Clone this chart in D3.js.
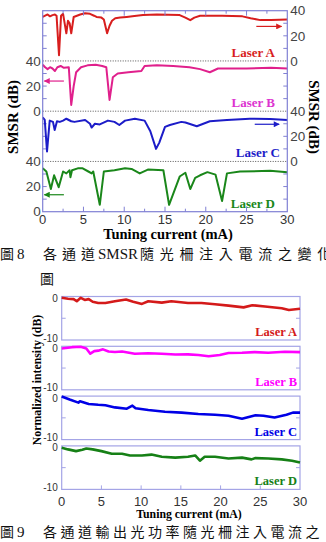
<!DOCTYPE html>
<html>
<head>
<meta charset="utf-8">
<script src="https://cdnjs.cloudflare.com/ajax/libs/d3/7.8.5/d3.min.js"></script>
<style>
  body { margin: 0; background: #fff; }
  svg { display: block; }
  .serif { font-family: "Liberation Serif", "Times New Roman", serif; font-weight: bold; }
  .sans { font-family: "Liberation Sans", Arial, sans-serif; }
  .cjk { font-family: "Noto Sans CJK TC", sans-serif; }
</style>
</head>
<body>
<div class="chart"></div>
<script>
// ---- data ----
var lasers = ["Laser A", "Laser B", "Laser C", "Laser D"];
var xTicks = [0, 5, 10, 15, 20, 25, 30];
var smsrTickLabels = [0, 20, 40];
var powerTickLabels = [0, -10];

// Fig 8: SMSR (dB) vs tuning current (mA)
var smsrA = [[0,35],[0.3,36],[0.6,37],[0.9,35.5],[1.2,36.5],[1.5,37],[1.7,36],[2.0,4.5],[2.25,36],[2.5,37.5],[2.9,22],[3.1,32],[3.3,30],[3.5,22],[3.8,35],[4.2,36],[4.6,37],[5.2,38],[5.8,37.5],[6.3,36],[6.6,35],[7.2,34.5],[7.5,33],[7.9,22],[8.2,28],[8.5,32],[8.9,34],[9.5,34.5],[10.3,35],[11,35.5],[12.3,36.5],[14,37],[16.8,36.5],[17.5,34.5],[18.1,32.5],[18.6,34.5],[19.3,36],[22,36],[24.5,35.5],[25.5,34],[26.7,32.5],[28,32.5],[30,33]];
var smsrB = [[0,37],[0.3,35],[0.6,33.5],[0.9,35],[1.2,34],[1.5,32],[1.8,35],[2.2,36],[2.6,34.5],[3.2,35],[3.5,5],[3.8,20],[4.1,31],[4.7,35],[5.5,36.5],[6.5,37],[7.3,36],[7.8,35],[8.2,9],[8.6,27],[9.2,30],[10.5,31],[12.1,32],[12.5,36],[14,36.5],[16,36],[18,35],[19.3,33.5],[20.5,31],[21.5,34],[25,34],[28,34.5],[30,34]];
var smsrC = [[0,35],[0.25,33],[0.53,8],[0.86,32.5],[1.26,31.5],[1.47,25],[1.75,32],[2.1,31.5],[2.5,32.5],[2.9,34],[3.5,32],[3.9,31.5],[5.2,33],[5.8,30],[6.0,27],[6.4,30],[7,29.5],[8,32.5],[8.8,31.5],[9.4,29],[10.1,32.5],[11.3,34],[12.5,32.5],[13.2,24],[13.9,10],[14.3,15],[15,27.5],[15.6,29],[17,31.5],[17.5,31],[18.9,28],[20.5,32],[22.6,33],[25.4,34],[27.9,33.8],[30,33]];
var smsrD = [[0,34.5],[0.45,32],[1.0,18],[1.4,29],[1.96,19.5],[2.5,32],[2.9,30.5],[3.3,33],[3.4,27.5],[3.6,33],[4.3,34.5],[4.9,34.5],[5.6,32],[6.0,30.5],[6.2,32],[7.0,5.5],[7.5,32],[8.8,33],[10.1,34.5],[10.9,34],[11.9,30.5],[12.9,33.5],[14.8,33],[15.5,5.5],[16.8,28],[17.5,31],[18.1,18],[18.7,27],[19.3,29],[20.2,31.5],[21.2,29.5],[22.0,8.5],[22.6,30.5],[24.2,32],[27.9,32.5],[30,31.5]];

// Fig 9: normalized intensity (dB) vs tuning current (mA)
var powerA = [[0,-0.3],[0.8,-0.5],[1.5,-0.6],[1.9,-1.1],[2.4,-0.3],[2.9,-0.8],[3.4,-0.6],[3.9,-1.2],[4.6,-1.5],[5.5,-1.5],[6.7,-1.1],[8.1,-0.7],[9.0,-1.2],[10.1,-1.7],[10.9,-1.1],[12.6,-1.4],[13.8,-1.1],[15.9,-1.5],[17.6,-1.5],[19.3,-1.8],[21,-2.1],[22.9,-2.5],[24.0,-2.0],[25.6,-2.3],[27.7,-2.7],[28.6,-3.1],[30,-2.8]];
var powerB = [[0,-0.5],[1.3,-0.2],[2.4,-0.1],[3.1,-0.5],[3.6,-1.7],[4.1,-1.1],[4.6,-1.0],[5.2,-0.7],[5.9,-1.2],[6.7,-1.3],[7.6,-1.2],[9.2,-1.7],[10.9,-1.6],[12.6,-1.7],[14.3,-1.9],[15.9,-1.85],[17.2,-2.0],[18.5,-2.3],[19.9,-2.0],[21,-1.55],[22.7,-1.5],[24.3,-1.35],[26,-1.5],[28.1,-1.25],[30,-1.35]];
var powerC = [[0,-0.1],[1.0,-0.8],[2.1,-1.5],[2.3,-1.2],[3.4,-1.8],[4.6,-2.0],[5.5,-2.1],[6.7,-2.6],[8.2,-2.9],[8.9,-2.2],[9.3,-2.8],[10.9,-3.2],[13,-3.6],[15.1,-3.8],[17.2,-4.1],[19.3,-4.3],[21,-4.5],[22.7,-5.2],[24.4,-4.4],[25.4,-4.5],[26.8,-4.9],[28.3,-4.3],[29.1,-3.8],[30,-3.8]];
var powerD = [[0,-0.4],[0.8,-0.8],[1.8,-1.2],[2.6,-0.9],[3.1,-0.6],[3.9,-0.8],[5.0,-1.2],[6.3,-1.8],[7.6,-1.8],[8.6,-2.2],[10.1,-2.2],[11.3,-2.0],[12.6,-2.5],[14.3,-2.7],[15.9,-2.5],[16.8,-2.2],[17.4,-3.4],[18.0,-2.5],[19.3,-2.5],[21,-2.9],[22.7,-2.7],[23.9,-3.1],[24.4,-2.8],[26,-2.9],[27.7,-3.1],[29,-3.4],[30,-3.8]];

// arrows marking which y axis each SMSR curve belongs to: [x0, x1, dB]
var smsrArrows = [[26.2, 29.3, 27.5], [2.6, 0.2, 24], [26.0, 29.0, 29.6], [2.6, 0.2, 13.5]];

var smsrColors = ["#d81e1e", "#e0208c", "#1c1cc8", "#1a871a"];
var labelColors = ["#d81e1e", "#dd33d0", "#1c1cc8", "#1a871a"];
var powerColors = ["#d41a1a", "#ff00ff", "#0000e6", "#168016"];

var svg = d3.select(".chart").append("svg")
    .attr("width", 326)
    .attr("height", 542);

var defs = svg.append("defs");
smsrColors.forEach(function(c, i) {
    defs.append("marker")
        .attr("id", "arrow" + i)
        .attr("viewBox", "0 0 10 10")
        .attr("refX", 9).attr("refY", 5)
        .attr("markerWidth", 7).attr("markerHeight", 6)
        .attr("markerUnits", "userSpaceOnUse")
        .attr("orient", "auto")
        .append("path")
        .attr("d", "M0,0L10,5L0,10Z")
        .attr("fill", c);
});

//////////////////////////////////////////////////////////////////
// Fig 8 - SMSR, four stacked panels sharing one frame
//////////////////////////////////////////////////////////////////
var top1 = 10.7, panelH1 = 50.25;
var x1 = d3.scaleLinear().domain([0, 30]).range([42.7, 287.3]);
var smsrSeries = [smsrA, smsrB, smsrC, smsrD];
var frame1 = "#8080d4";

var fig8 = svg.append("g");

smsrSeries.forEach(function(series, i) {
    var y = d3.scaleLinear().domain([0, 40]).range([top1 + (i + 1) * panelH1, top1 + i * panelH1]);

    // inward ticks every 10 dB on both sides
    [10, 20, 30].forEach(function(v) {
        fig8.append("line").attr("x1", x1(0)).attr("x2", x1(0) + 4)
            .attr("y1", y(v)).attr("y2", y(v)).attr("stroke", frame1);
        fig8.append("line").attr("x1", x1(30)).attr("x2", x1(30) - 4)
            .attr("y1", y(v)).attr("y2", y(v)).attr("stroke", frame1);
    });

    // tick labels: right side for A and C, left side for B and D
    var rightSide = (i % 2 === 0);
    fig8.selectAll(null).data(smsrTickLabels).enter().append("text")
        .attr("class", "sans")
        .attr("x", rightSide ? x1(30) + 3 : x1(0) - 2)
        .attr("y", function(d) { return y(d); })
        .attr("dy", "0.35em")
        .attr("text-anchor", rightSide ? "start" : "end")
        .attr("font-size", 13.5)
        .attr("fill", "#444")
        .text(function(d) { return d; });

    var line = d3.line()
        .x(function(d) { return x1(d[0]); })
        .y(function(d) { return y(d[1]); });

    fig8.append("path")
        .datum(series)
        .attr("d", line)
        .attr("fill", "none")
        .attr("stroke", smsrColors[i])
        .attr("stroke-width", 2)
        .attr("stroke-linejoin", "round");

    var a = smsrArrows[i];
    fig8.append("line")
        .attr("x1", x1(a[0])).attr("x2", x1(a[1]))
        .attr("y1", y(a[2])).attr("y2", y(a[2]))
        .attr("stroke", smsrColors[i])
        .attr("stroke-width", 1.2)
        .attr("marker-end", "url(#arrow" + i + ")");

    fig8.append("text")
        .attr("class", "serif")
        .attr("x", i === 2 ? 280 : 275)
        .attr("y", y(0) - 4)
        .attr("text-anchor", "end")
        .attr("font-size", 13)
        .attr("fill", labelColors[i])
        .text(lasers[i]);

    // dotted separator under panels A-C
    if (i < 3) {
        fig8.append("line")
            .attr("x1", x1(0)).attr("x2", x1(30))
            .attr("y1", y(0)).attr("y2", y(0))
            .attr("stroke", "#555")
            .attr("stroke-width", 1)
            .attr("stroke-dasharray", "1,1.5");
    }
});

var bottom1 = top1 + 4 * panelH1;

// frame
fig8.append("rect")
    .attr("x", x1(0)).attr("y", top1)
    .attr("width", x1(30) - x1(0)).attr("height", bottom1 - top1)
    .attr("fill", "none").attr("stroke", frame1).attr("stroke-width", 1.2);

// x ticks on top and bottom every 2.5 mA
d3.range(2.5, 30, 2.5).forEach(function(v) {
    var len = (v % 5 === 0) ? 5 : 3;
    fig8.append("line").attr("x1", x1(v)).attr("x2", x1(v))
        .attr("y1", top1).attr("y2", top1 + len).attr("stroke", frame1);
    fig8.append("line").attr("x1", x1(v)).attr("x2", x1(v))
        .attr("y1", bottom1).attr("y2", bottom1 - len).attr("stroke", frame1);
});

fig8.selectAll(null).data(xTicks).enter().append("text")
    .attr("class", "sans")
    .attr("x", function(d) { return x1(d); })
    .attr("y", bottom1 + 12)
    .attr("text-anchor", "middle")
    .attr("font-size", 13)
    .attr("fill", "#333")
    .text(function(d) { return d; });

fig8.append("text")
    .attr("class", "serif")
    .attr("x", 168).attr("y", 239)
    .attr("text-anchor", "middle")
    .attr("font-size", 14.5)
    .text("Tuning current (mA)");

fig8.append("text")
    .attr("class", "serif")
    .attr("transform", "translate(18,117) rotate(-90)")
    .attr("text-anchor", "middle")
    .attr("font-size", 15)
    .text("SMSR (dB)");

fig8.append("text")
    .attr("class", "serif")
    .attr("transform", "translate(309,117) rotate(90)")
    .attr("text-anchor", "middle")
    .attr("font-size", 15)
    .text("SMSR (dB)");

// caption of Fig 8 (the line runs past the right edge, as in the source)
var cap8 = svg.append("text").attr("y", 259).attr("font-size", 14).attr("fill", "#111");
cap8.append("tspan").attr("class", "cjk").attr("x", 0).text("圖");
cap8.append("tspan").attr("font-family", "Liberation Serif, serif").attr("font-size", 15).attr("x", 17).text("8");
cap8.append("tspan").attr("class", "cjk").attr("x", 43).attr("letter-spacing", 5).text("各通道");
cap8.append("tspan").attr("font-family", "Liberation Serif, serif").attr("font-size", 15).attr("x", 98).text("SMSR");
cap8.append("tspan").attr("class", "cjk").attr("x", 140).attr("letter-spacing", 5.7).text("隨光柵注入電流之變化");
svg.append("text").attr("class", "cjk").attr("x", 40).attr("y", 284)
    .attr("font-size", 14).attr("fill", "#111").text("圖");

//////////////////////////////////////////////////////////////////
// Fig 9 - normalized intensity, four separate framed panels
//////////////////////////////////////////////////////////////////
var top2 = 296.5, step2 = 49.8, panelH2 = 43.5;
var x2 = d3.scaleLinear().domain([0, 30]).range([61.7, 300]);
var powerSeries = [powerA, powerB, powerC, powerD];
var frame2 = "#a4a4e6";

var fig9 = svg.append("g");

powerSeries.forEach(function(series, i) {
    var pTop = top2 + i * step2;
    var y = d3.scaleLinear().domain([-10, 0]).range([pTop + panelH2, pTop]);

    fig9.append("rect")
        .attr("x", x2(0)).attr("y", pTop)
        .attr("width", x2(30) - x2(0)).attr("height", panelH2)
        .attr("fill", "none").attr("stroke", frame2).attr("stroke-width", 1.2);

    fig9.append("line").attr("x1", x2(0)).attr("x2", x2(0) + 4)
        .attr("y1", y(-5)).attr("y2", y(-5)).attr("stroke", frame2);
    fig9.append("line").attr("x1", x2(30)).attr("x2", x2(30) - 4)
        .attr("y1", y(-5)).attr("y2", y(-5)).attr("stroke", frame2);

    // labels sit just inside the panel's top and bottom
    fig9.selectAll(null).data(powerTickLabels).enter().append("text")
        .attr("class", "sans")
        .attr("x", x2(0) - 4)
        .attr("y", function(d) { return d === 0 ? y(d) + 2 : y(d) - 2; })
        .attr("dy", "0.35em")
        .attr("text-anchor", "end")
        .attr("font-size", 10)
        .attr("fill", "#333")
        .text(function(d) { return d; });

    var line = d3.line()
        .x(function(d) { return x2(d[0]); })
        .y(function(d) { return y(d[1]); });

    fig9.append("path")
        .datum(series)
        .attr("d", line)
        .attr("fill", "none")
        .attr("stroke", powerColors[i])
        .attr("stroke-width", 2.6)
        .attr("stroke-linejoin", "round");

    fig9.append("text")
        .attr("class", "serif")
        .attr("x", 297)
        .attr("y", pTop + panelH2 - 4)
        .attr("text-anchor", "end")
        .attr("font-size", 12.5)
        .attr("fill", powerColors[i])
        .text(lasers[i]);

    if (i === 3) {
        xTicks.slice(1, 6).forEach(function(v) {
            fig9.append("line").attr("x1", x2(v)).attr("x2", x2(v))
                .attr("y1", pTop + panelH2).attr("y2", pTop + panelH2 - 4)
                .attr("stroke", frame2);
        });
    }
});

fig9.selectAll(null).data(xTicks).enter().append("text")
    .attr("class", "sans")
    .attr("x", function(d) { return x2(d); })
    .attr("y", 506)
    .attr("text-anchor", "middle")
    .attr("font-size", 13)
    .attr("fill", "#333")
    .text(function(d) { return d; });

fig9.append("text")
    .attr("class", "serif")
    .attr("x", 189).attr("y", 518)
    .attr("text-anchor", "middle")
    .attr("font-size", 11.8)
    .text("Tuning current (mA)");

fig9.append("text")
    .attr("class", "serif")
    .attr("transform", "translate(41,380) rotate(-90)")
    .attr("text-anchor", "middle")
    .attr("font-size", 11.8)
    .text("Normalized intensity (dB)");

// caption of Fig 9
var cap9 = svg.append("text").attr("y", 537).attr("font-size", 14).attr("fill", "#111");
cap9.append("tspan").attr("class", "cjk").attr("x", 0).text("圖");
cap9.append("tspan").attr("font-family", "Liberation Serif, serif").attr("font-size", 15).attr("x", 17).text("9");
cap9.append("tspan").attr("class", "cjk").attr("x", 43).attr("letter-spacing", 3.5).text("各通道輸出光功率隨光柵注入電流之");
</script>
</body>
</html>
